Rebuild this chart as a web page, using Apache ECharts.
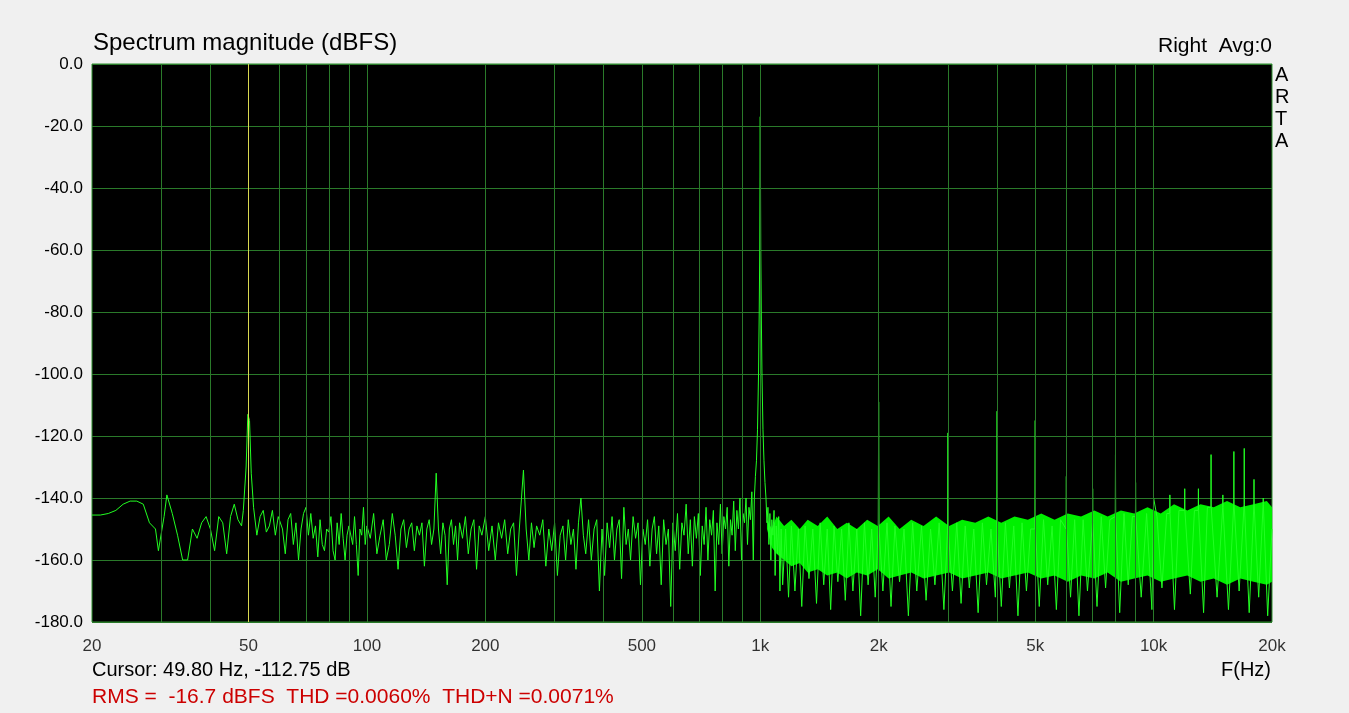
<!DOCTYPE html>
<html><head><meta charset="utf-8">
<script src="https://cdn.jsdelivr.net/npm/echarts@6/dist/echarts.min.js"></script>
<style>html,body{margin:0;padding:0;background:#f0f0f0}#c{width:1349px;height:713px}</style>
</head><body><div id="c"></div>
<script>
const tickFreqs=[20,50,100,200,500,1000,2000,5000,10000,20000];
const tickLabels=['20','50','100','200','500','1k','2k','5k','10k','20k'];
const gridFreqs=[30,40,50,60,70,80,90,100,200,300,400,500,600,700,800,900,1000,2000,3000,4000,5000,6000,7000,8000,9000,10000];
const cursorFreq=49.8;
const specLow=[[20,-145.5],[21,-145.5],[22,-145],[23,-144],[24,-142],[25,-141],[26,-141],[27,-142],[28,-148],[29,-150],[29.5,-157],[30.5,-146],[31,-139],[32,-145],[33,-152],[34,-160],[35,-160],[36,-150],[37,-153],[38,-148],[39,-146],[40,-150],[41,-157],[42,-146],[43,-148],[44,-158],[45,-146],[46,-142],[47,-147],[48,-149],[48.5,-144],[49.3,-130],[49.8,-113],[50.3,-115],[50.8,-132],[51.5,-143],[52.5,-152],[53.5,-146],[54.5,-144],[55.5,-151],[56.5,-149],[57.5,-144],[58.5,-152],[59.5,-146],[61,-150],[62,-158],[63,-147],[64,-145],[65,-155],[66,-148],[67,-160],[68,-150],[69,-145],[70,-143],[71,-152],[72,-145],[73,-153],[74,-149],[75,-159],[76,-147],[77,-155],[78,-157],[79,-150],[80,-151],[81,-146],[82,-157],[83,-160],[84,-148],[85,-155],[86,-145],[87,-153],[88,-160],[89,-152],[90,-149],[92,-155],[93,-146],[94,-155],[95,-165],[96,-150],[97,-152],[98,-143],[99,-155],[100,-149],[102,-153],[104,-145],[106,-158],[108,-152],[110,-147],[112,-160],[114,-155],[116,-145],[118,-152],[120,-163],[122,-150],[124,-147],[126,-156],[128,-150],[130,-148],[132,-157],[134,-149],[136,-152],[138,-148],[140,-162],[142,-150],[144,-147],[146,-155],[148,-150],[150,-132],[152,-150],[154,-158],[156,-148],[158,-152],[160,-168],[162,-150],[164,-147],[166,-155],[168,-149],[170,-160],[172,-148],[175,-153],[178,-146],[181,-158],[184,-150],[187,-147],[190,-163],[193,-149],[196,-152],[200,-146],[204,-157],[208,-149],[212,-160],[216,-148],[220,-153],[224,-147],[228,-158],[232,-150],[236,-148],[240,-165],[244,-150],[250,-131],[254,-150],[258,-160],[262,-148],[266,-156],[270,-149],[275,-152],[280,-147],[285,-162],[290,-150],[295,-157],[300,-148],[305,-165],[310,-152],[315,-149],[320,-160],[325,-147],[330,-155],[335,-150],[340,-163],[345,-148],[350,-140],[355,-152],[360,-158],[366,-147],[372,-160],[378,-150],[384,-147],[390,-170],[396,-150],[402,-165],[408,-148],[414,-156],[420,-146],[426,-160],[432,-150],[438,-147],[444,-166],[450,-143],[456,-155],[462,-150],[468,-160],[475,-146],[482,-153],[489,-148],[496,-168],[503,-150],[510,-155],[517,-147],[524,-162],[531,-150],[538,-146],[545,-158],[552,-149],[560,-168],[568,-147],[576,-155],[584,-150],[592,-175],[600,-148],[608,-157],[616,-145],[624,-163],[632,-148],[640,-152],[648,-142],[656,-158],[664,-147],[672,-162],[680,-146],[688,-153],[696,-145],[704,-165],[712,-149],[720,-155],[728,-143],[736,-160],[744,-147],[752,-152],[760,-144],[768,-170],[776,-148],[784,-155],[792,-142],[800,-158],[808,-146],[816,-150],[824,-143],[832,-162],[840,-147],[848,-152],[856,-141],[864,-157],[872,-144],[880,-150],[888,-140],[896,-160],[904,-145],[912,-148],[920,-140],[928,-155],[936,-143],[944,-147],[952,-138],[960,-160],[966,-140],[972,-133],[978,-128],[984,-118],[990,-100],[994,-80],[997,-60],[999,-30],[1000,-17],[1001,-30],[1003,-60],[1006,-80],[1010,-100],[1016,-118],[1022,-128],[1028,-135],[1034,-140],[1040,-148],[1046,-143],[1052,-155],[1058,-145],[1064,-160],[1070,-147],[1077,-152],[1084,-144],[1091,-165],[1098,-149],[1106,-158],[1114,-146],[1122,-170],[1130,-150]];
const specHigh=[1140,-168,1160,-150,1180,-172,1200,-149,1225,-170,1250,-150,1275,-175,1300,-149,1330,-166,1360,-150,1390,-174,1420,-148,1450,-168,1480,-150,1510,-176,1540,-149,1575,-167,1610,-150,1645,-173,1680,-148,1720,-170,1760,-150,1800,-178,1840,-148,1880,-168,1920,-150,1960,-172,1995,-150,2000,-109,2005,-150,2050,-170,2100,-148,2150,-175,2200,-149,2260,-167,2320,-150,2380,-178,2440,-148,2500,-170,2570,-149,2640,-173,2710,-150,2780,-168,2850,-148,2930,-176,2995,-150,3000,-119,3005,-150,3080,-170,3160,-148,3240,-174,3320,-149,3400,-169,3490,-150,3580,-177,3670,-148,3760,-168,3860,-150,3960,-172,3995,-150,4000,-112,4005,-150,4100,-175,4200,-148,4300,-169,4410,-149,4520,-178,4630,-148,4750,-170,4870,-150,4990,-150,5000,-115,5010,-150,5120,-175,5250,-147,5380,-168,5520,-149,5660,-176,5800,-147,5990,-150,6000,-133,6010,-150,6150,-172,6300,-147,6460,-178,6620,-147,6790,-170,6990,-148,7000,-137,7010,-148,7180,-175,7360,-146,7550,-169,7740,-147,7990,-146,8000,-126,8010,-146,8200,-177,8410,-145,8620,-168,8830,-146,8990,-146,9000,-135,9010,-146,9300,-172,9600,-145,9900,-176,10000,-140,10200,-146,10500,-169,10800,-145,10990,-145,11000,-139,11010,-145,11300,-176,11600,-144,11990,-144,12000,-137,12010,-144,12400,-171,12700,-144,12990,-144,13000,-137,13010,-144,13400,-177,13700,-143,13990,-143,14000,-126,14010,-143,14500,-172,14990,-143,15000,-139,15010,-143,15500,-176,15990,-142,16000,-125,16010,-142,16500,-170,16990,-142,17000,-124,17010,-142,17500,-177,17990,-142,18000,-134,18010,-142,18500,-172,18990,-142,19000,-140,19010,-142,19500,-178,20000,-150];
const bandFreqs=[1040,1070,1100,1150,1200,1260,1320,1400,1480,1570,1660,1760,1870,1990,2120,2260,2420,2600,2800,3020,3260,3520,3800,4100,4430,4790,5180,5600,6050,6540,7070,7640,8260,8930,9650,10430,11270,12180,13160,14220,15370,16610,17950,19400,20000];
const bandUpper=[-147,-150,-146,-149,-147,-150,-147,-149,-146,-150,-148,-150,-147,-149,-146,-150,-147,-149,-146,-149,-147,-148,-146,-148,-146,-147,-145,-147,-145,-146,-144,-146,-144,-145,-143,-145,-142,-144,-142,-143,-141,-143,-142,-141,-143];
const bandLower=[-150,-156,-158,-160,-162,-161,-164,-163,-165,-164,-166,-164,-165,-163,-166,-165,-164,-166,-165,-164,-166,-165,-164,-166,-165,-164,-166,-165,-167,-165,-166,-164,-167,-166,-165,-167,-166,-165,-167,-166,-168,-166,-167,-168,-167];

const spec=specLow.slice();
for(let i=0;i<specHigh.length;i+=2) spec.push([specHigh[i],specHigh[i+1]]);

const chart=echarts.init(document.getElementById('c'));
const gridCol='#2a7a2a';
const font='"Liberation Sans", Arial, sans-serif';
chart.setOption({
  backgroundColor:'#f0f0f0',
  animation:false,
  grid:{left:92,right:77,top:64,bottom:91,backgroundColor:'#000',show:true,borderColor:'#2f8f2f',borderWidth:1},
  xAxis:{type:'log',logBase:10,min:20,max:20000,axisLine:{show:false},axisTick:{show:false},axisLabel:{show:false},splitLine:{show:false},minorSplitLine:{show:false}},
  yAxis:{type:'value',min:-180,max:0,interval:20,axisLine:{show:false},axisTick:{show:false},
    axisLabel:{color:'#000',fontSize:17,fontFamily:font,margin:9,formatter:v=>v.toFixed(1)},
    splitLine:{lineStyle:{color:gridCol,width:1}}},
  series:[
    {type:'line',data:[],silent:true,markLine:{silent:true,symbol:'none',animation:false,label:{show:false},
      lineStyle:{color:gridCol,type:'solid',width:1},data:gridFreqs.map(f=>({xAxis:f}))}},
    {type:'custom',silent:true,z:3,data:[0],renderItem:(params,api)=>{
      const pts=[];
      bandFreqs.forEach((f,i)=>pts.push(api.coord([f,bandUpper[i]])));
      for(let i=bandFreqs.length-1;i>=0;i--) pts.push(api.coord([bandFreqs[i],bandLower[i]]));
      return {type:'polygon',shape:{points:pts},style:{fill:'#00f000'}};
    }},
    {type:'line',data:spec,showSymbol:false,lineStyle:{color:'#22ff22',width:1},z:4,silent:true},
    {type:'line',data:[],silent:true,z:5,markLine:{silent:true,symbol:'none',animation:false,label:{show:false},
      lineStyle:{color:'#d8d850',type:'solid',width:1},data:[{xAxis:cursorFreq}]}},
    {type:'scatter',symbolSize:0,clip:false,silent:true,data:tickFreqs.map(f=>[f,-180]),
      label:{show:true,position:'bottom',distance:16,color:'#000',fontSize:17,fontFamily:font,formatter:p=>tickLabels[p.dataIndex]}}
  ],
  graphic:[
    {type:'text',left:93,top:31,style:{text:'Spectrum magnitude (dBFS)',font:'24px '+font,fill:'#000'}},
    {type:'text',right:77,top:36,style:{text:'Right  Avg:0',font:'21px '+font,fill:'#000'}},
    {type:'text',left:1275,top:64,style:{text:'A\nR\nT\nA',font:'20px '+font,fill:'#000',lineHeight:22}},
    {type:'text',left:92,top:660,style:{text:'Cursor: 49.80 Hz, -112.75 dB',font:'20px '+font,fill:'#000'}},
    {type:'text',right:78,top:660,style:{text:'F(Hz)',font:'20px '+font,fill:'#000'}},
    {type:'text',left:92,top:687,style:{text:'RMS =  -16.7 dBFS  THD =0.0060%  THD+N =0.0071%',font:'21px '+font,fill:'#cc0000'}}
  ]
});
</script></body></html>
